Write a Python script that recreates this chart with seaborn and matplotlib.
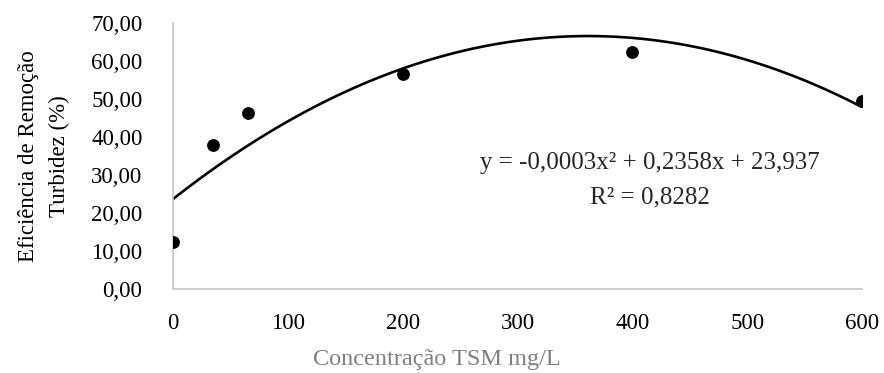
import matplotlib
matplotlib.use("Agg")
import matplotlib.pyplot as plt
import seaborn as sns
import pandas as pd
from matplotlib.ticker import FuncFormatter

# Data
conc = [0, 35, 65, 200, 400, 600]
eficiencia = [12.3, 38.0, 46.2, 56.5, 62.3, 49.6]
x_ticks = [0, 100, 200, 300, 400, 500, 600]
y_ticks = [0, 10, 20, 30, 40, 50, 60, 70]
equation = "y = -0,0003x² + 0,2358x + 23,937"
r2_text = "R² = 0,8282"

df = pd.DataFrame({"conc": conc, "ef": eficiencia})

sns.set_style("white")
plt.rcParams["font.family"] = ["Liberation Serif", "DejaVu Serif"]

fig = plt.figure(figsize=(8.84, 3.73), dpi=100)
ax = fig.add_axes([173 / 884, 1 - 289 / 373, (862 - 173) / 884, (289 - 23) / 373])

sns.regplot(data=df, x="conc", y="ef", order=2, ci=None, ax=ax,
            scatter_kws=dict(s=85, color="black", alpha=1, linewidths=0, zorder=3),
            line_kws=dict(color="black", lw=1.9), truncate=True)

ax.set_xlim(0, 600)
ax.set_ylim(0, 70)
ax.set_xticks(x_ticks)
ax.set_yticks(y_ticks)
ax.yaxis.set_major_formatter(FuncFormatter(lambda v, p: f"{v:.2f}".replace(".", ",")))
ax.tick_params(axis="both", length=0, labelsize=16.5, colors="black")
ax.tick_params(axis="y", pad=22)
ax.tick_params(axis="x", pad=17)

for side in ["top", "right"]:
    ax.spines[side].set_visible(False)
for side in ["left", "bottom"]:
    ax.spines[side].set_color("#c8c8c8")
    ax.spines[side].set_linewidth(1.2)

ax.set_xlabel("Concentração TSM mg/L", fontsize=17.5, color="#808080")
ax.xaxis.set_label_coords((437 - 173) / 689, (289 - 349) / 266)
ax.set_ylabel("Eficiência de Remoção\nTurbidez (%)", fontsize=16.5, color="black",
              linespacing=1.6)
ax.yaxis.set_label_coords((70 - 173) / 689, 0.5)

ax.text((650 - 173) / 689, (289 - 163) / 266, equation, transform=ax.transAxes,
        ha="center", va="center", fontsize=18, color="#262626")
ax.text((650 - 173) / 689, (289 - 197) / 266, r2_text, transform=ax.transAxes,
        ha="center", va="center", fontsize=18, color="#262626")

fig.savefig("out.png", dpi=100)
